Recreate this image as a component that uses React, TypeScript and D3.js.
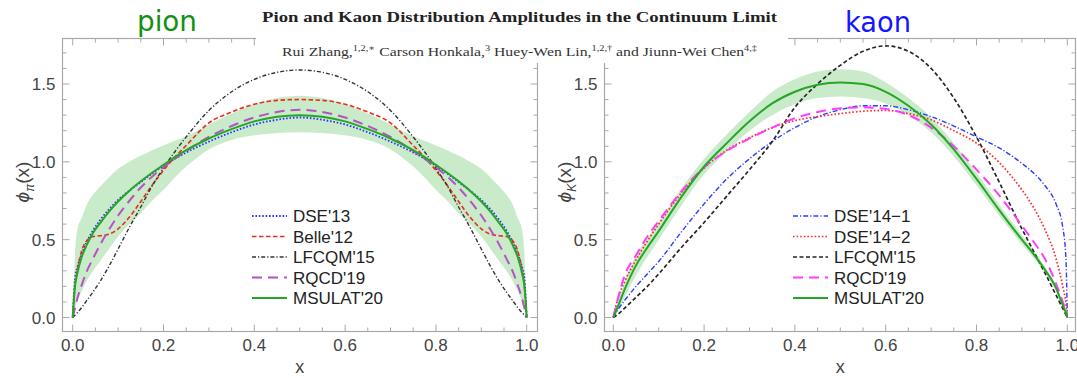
import React from "react";
import * as d3 from "d3";

// ---------- data ----------
const pionX = [0, 0.005, 0.01, 0.02, 0.03, 0.045, 0.06, 0.08, 0.1, 0.125, 0.15, 0.175, 0.2, 0.225, 0.25, 0.3, 0.35, 0.4, 0.45, 0.5, 0.55, 0.6, 0.65, 0.7, 0.75, 0.775, 0.8, 0.825, 0.85, 0.875, 0.9, 0.92, 0.94, 0.955, 0.97, 0.98, 0.99, 0.995, 1];
const pionDSE13 = [0, .25, .32, .41, .48, .56, .625, .695, .755, .815, .87, .925, .975, 1.02, 1.06, 1.13, 1.19, 1.24, 1.27, 1.285, 1.27, 1.24, 1.19, 1.13, 1.06, 1.02, .975, .925, .87, .815, .755, .695, .625, .56, .48, .41, .32, .25, 0];
const pionBelle12 = [0, .2, .3, .43, .49, .52, .525, .535, .57, .645, .745, .85, .945, 1.03, 1.105, 1.25, 1.32, 1.37, 1.395, 1.40, 1.395, 1.37, 1.32, 1.25, 1.105, 1.03, .945, .85, .745, .645, .57, .535, .525, .52, .49, .43, .3, .2, 0];
const pionLFCQM15 = [0, .015, .03, .065, .105, .165, .23, .33, .44, .58, .71, .845, .96, 1.065, 1.16, 1.33, 1.45, 1.53, 1.575, 1.59, 1.575, 1.53, 1.45, 1.33, 1.16, 1.065, .96, .845, .71, .58, .44, .33, .23, .165, .105, .065, .03, .015, 0];
const pionRQCD19 = [0, .06, .12, .21, .29, .38, .465, .565, .655, .75, .835, .905, .965, 1.02, 1.07, 1.16, 1.23, 1.285, 1.32, 1.335, 1.32, 1.285, 1.23, 1.16, 1.07, 1.02, .965, .905, .835, .75, .655, .565, .465, .38, .29, .21, .12, .06, 0];
const pionMSULAT20 = [0, .2, .28, .39, .46, .545, .605, .68, .745, .815, .875, .93, .98, 1.03, 1.075, 1.15, 1.21, 1.26, 1.29, 1.30, 1.29, 1.26, 1.21, 1.15, 1.075, 1.03, .98, .93, .875, .815, .745, .68, .605, .545, .46, .39, .28, .2, 0];
const pionBandLo = [0, .06, .1, .17, .23, .3, .36, .44, .52, .6, .67, .75, .82, .9, .97, 1.08, 1.14, 1.17, 1.185, 1.19, 1.185, 1.17, 1.14, 1.08, .97, .9, .82, .75, .67, .6, .52, .44, .36, .3, .23, .17, .1, .06, 0];
const pionBandHi = [0, .4, .56, .64, .72, .79, .84, .9, .955, 1.0, 1.04, 1.075, 1.105, 1.135, 1.165, 1.24, 1.31, 1.37, 1.41, 1.425, 1.41, 1.37, 1.31, 1.24, 1.165, 1.135, 1.105, 1.075, 1.04, 1.0, .955, .9, .84, .79, .72, .64, .56, .4, 0];

const kaonX = [0, 0.01, 0.025, 0.05, 0.075, 0.1, 0.15, 0.2, 0.25, 0.3, 0.35, 0.4, 0.45, 0.5, 0.55, 0.6, 0.65, 0.7, 0.75, 0.8, 0.85, 0.9, 0.925, 0.95, 0.975, 0.99, 0.997, 1];
const kaonDSE141 = [0, .05, .11, .2, .28, .36, .55, .73, .89, 1.02, 1.13, 1.22, 1.29, 1.335, 1.36, 1.36, 1.335, 1.29, 1.23, 1.16, 1.09, .99, .93, .85, .73, .58, .38, 0];
const kaonDSE142 = [0, .12, .23, .37, .49, .60, .80, .96, 1.075, 1.155, 1.22, 1.265, 1.29, 1.31, 1.325, 1.33, 1.31, 1.27, 1.20, 1.12, .995, .82, .71, .57, .38, .2, .09, 0];
const kaonLFCQM15 = [0, .02, .06, .13, .2, .28, .45, .61, .78, .95, 1.13, 1.35, 1.50, 1.62, 1.71, 1.745, 1.71, 1.60, 1.41, 1.16, .87, .57, .43, .29, .145, .058, .017, 0];
const kaonRQCD19 = [0, .12, .27, .40, .52, .62, .81, .965, 1.07, 1.15, 1.22, 1.28, 1.32, 1.345, 1.35, 1.34, 1.30, 1.22, 1.10, .95, .785, .59, .49, .38, .22, .10, .04, 0];
const kaonMSULAT20 = [0, .07, .18, .335, .45, .555, .775, .97, 1.12, 1.26, 1.375, 1.45, 1.495, 1.51, 1.50, 1.45, 1.36, 1.24, 1.08, .89, .69, .50, .41, .31, .19, .08, .03, 0];
const kaonBandLo = [0, .04, .13, .27, .39, .50, .72, .92, 1.065, 1.20, 1.30, 1.37, 1.41, 1.42, 1.41, 1.375, 1.30, 1.19, 1.035, .85, .655, .47, .385, .29, .17, .07, .025, 0];
const kaonBandHi = [0, .10, .23, .40, .51, .61, .83, 1.02, 1.175, 1.32, 1.45, 1.53, 1.58, 1.595, 1.58, 1.51, 1.41, 1.285, 1.12, .93, .725, .53, .435, .33, .21, .09, .035, 0];

const xTickValues = [0, 0.2, 0.4, 0.6, 0.8, 1.0];
const xTickLabels = ["0.0", "0.2", "0.4", "0.6", "0.8", "1.0"];
const yTickValues = [0, 0.5, 1.0, 1.5];
const yTickLabels = ["0.0", "0.5", "1.0", "1.5"];

const pionNames = ["DSE'13", "Belle'12", "LFCQM'15", "RQCD'19", "MSULAT'20"];
const kaonNames = ["DSE'14\u22121", "DSE'14\u22122", "LFCQM'15", "RQCD'19", "MSULAT'20"];

type Style = { color: string; dash: string; width: number };

const pionStyles: Style[] = [
  { color: "#2a35ff", dash: "1.6 1.8", width: 1.8 },
  { color: "#ee2a1e", dash: "4.5 2.5", width: 1.6 },
  { color: "#333333", dash: "4 2 1.2 2", width: 1.4 },
  { color: "#b552c4", dash: "10 6", width: 2 },
  { color: "#26a626", dash: "", width: 2 },
];
const kaonStyles: Style[] = [
  { color: "#2a3cff", dash: "5 2 1.2 2", width: 1.4 },
  { color: "#ff2a2a", dash: "1.6 2", width: 1.7 },
  { color: "#262626", dash: "4 2.5", width: 1.7 },
  { color: "#ff3cff", dash: "10 6", width: 2 },
  { color: "#26a626", dash: "", width: 2 },
];

const FONT = "'Liberation Sans', Arial, sans-serif";
const FRAME = "#a8a8a8";

type PanelProps = {
  xs: number[];
  series: number[][];
  styles: Style[];
  names: string[];
  lo: number[];
  hi: number[];
  frame: { x0: number; x1: number; y0: number; y1: number };
  xRange: [number, number];
  sub: string;
  ylabelX: number;
  legendLineX: number;
};

function Panel(p: PanelProps) {
  const x = d3.scaleLinear().domain([0, 1]).range(p.xRange);
  const y = d3.scaleLinear().domain([0, 1.5]).range([317.5, 84]);
  const idx = p.xs.map((_, i) => i);
  const line = (vals: number[]) =>
    d3.line<number>().x((i) => x(p.xs[i])).y((i) => y(vals[i])).curve(d3.curveMonotoneX)(idx) || "";
  const area =
    d3.area<number>().x((i) => x(p.xs[i])).y0((i) => y(p.lo[i])).y1((i) => y(p.hi[i])).curve(d3.curveMonotoneX)(idx) || "";
  const { x0, x1, y0, y1 } = p.frame;
  const xMinor = d3.range(0, 1.0001, 0.05);
  const yMinor = d3.range(0, 1.75, 0.1);
  const isMajX = (v: number) => Math.abs(v / 0.2 - Math.round(v / 0.2)) < 1e-6;
  const isMajY = (v: number) => Math.abs(v / 0.5 - Math.round(v / 0.5)) < 1e-6;
  const legendYs = [216, 236.5, 257, 277.5, 298];
  return (
    <g>
      <path d={area} fill="#7fcf7f" fillOpacity={0.42} stroke="none" />
      {p.series.map((s, k) => (
        <path key={k} d={line(s)} fill="none" stroke={p.styles[k].color} strokeWidth={p.styles[k].width} strokeDasharray={p.styles[k].dash || undefined} />
      ))}
      <rect x={x0} y={y0} width={x1 - x0} height={y1 - y0} fill="none" stroke={FRAME} strokeWidth={1.2} />
      {xMinor.map((v, i) => {
        const L = isMajX(v) ? 7 : 4;
        const X = x(v);
        return (
          <g key={"xt" + i} stroke={FRAME} strokeWidth={1}>
            <line x1={X} x2={X} y1={y1} y2={y1 - L} />
            <line x1={X} x2={X} y1={y0} y2={y0 + L} />
          </g>
        );
      })}
      {yMinor.map((v, i) => {
        const L = isMajY(v) ? 7 : 4;
        const Y = y(v);
        return (
          <g key={"yt" + i} stroke={FRAME} strokeWidth={1}>
            <line x1={x0} x2={x0 + L} y1={Y} y2={Y} />
            <line x1={x1} x2={x1 - L} y1={Y} y2={Y} />
          </g>
        );
      })}
      {xTickValues.map((v, i) => (
        <text key={"xl" + i} x={x(v)} y={351} textAnchor="middle" fontFamily={FONT} fontSize={17} fill="#444">
          {xTickLabels[i]}
        </text>
      ))}
      {yTickValues.map((v, i) => (
        <text key={"yl" + i} x={x0 - 7} y={y(v) + 6} textAnchor="end" fontFamily={FONT} fontSize={17} fill="#444">
          {yTickLabels[i]}
        </text>
      ))}
      <text x={(p.xRange[0] + p.xRange[1]) / 2} y={373} textAnchor="middle" fontFamily={FONT} fontSize={18} fill="#444">
        x
      </text>
      <text transform={`translate(${p.ylabelX},182) rotate(-90)`} textAnchor="middle" fontFamily={FONT} fontSize={19} fill="#444">
        <tspan fontStyle="italic">ϕ</tspan>
        <tspan fontSize={12} dy={5} fontStyle="italic">{p.sub}</tspan>
        <tspan dy={-5}>(x)</tspan>
      </text>
      {p.names.map((n, k) => (
        <g key={"lg" + k}>
          <line x1={p.legendLineX} x2={p.legendLineX + 35} y1={legendYs[k]} y2={legendYs[k]} stroke={p.styles[k].color} strokeWidth={p.styles[k].width} strokeDasharray={p.styles[k].dash || undefined} />
          <text x={p.legendLineX + 41} y={legendYs[k] + 6} fontFamily={FONT} fontSize={17} fill="#222">
            {n}
          </text>
        </g>
      ))}
    </g>
  );
}

export default function App() {
  return (
    <svg width={1077} height={378} style={{ position: "absolute", left: 0, top: 0, background: "#fff" }}>
      <rect x={0} y={0} width={1077} height={378} fill="#fff" />
      <Panel
        xs={pionX}
        series={[pionDSE13, pionBelle12, pionLFCQM15, pionRQCD19, pionMSULAT20]}
        styles={pionStyles}
        names={pionNames}
        lo={pionBandLo}
        hi={pionBandHi}
        frame={{ x0: 62.5, x1: 537.5, y0: 38.5, y1: 331.5 }}
        xRange={[72.7, 526.7]}
        sub="π"
        ylabelX={29}
        legendLineX={252}
      />
      <Panel
        xs={kaonX}
        series={[kaonDSE141, kaonDSE142, kaonLFCQM15, kaonRQCD19, kaonMSULAT20]}
        styles={kaonStyles}
        names={kaonNames}
        lo={kaonBandLo}
        hi={kaonBandHi}
        frame={{ x0: 604.5, x1: 1075.5, y0: 38.5, y1: 331.5 }}
        xRange={[613.3, 1067.3]}
        sub="K"
        ylabelX={571}
        legendLineX={793}
      />
      <rect x={256} y={0} width={532} height={63} fill="#fff" />
      <text x={262} y={22} fontFamily="'Liberation Serif', 'DejaVu Serif', serif" fontWeight="bold" fontSize={15} fill="#222" textLength={515} lengthAdjust="spacingAndGlyphs">
        Pion and Kaon Distribution Amplitudes in the Continuum Limit
      </text>
      <text x={282} y={56} fontFamily="'Liberation Serif', 'DejaVu Serif', serif" fontSize={13} fill="#333" textLength={475} lengthAdjust="spacingAndGlyphs">
        Rui Zhang,<tspan fontSize={8.5} dy={-5}>1,2,∗</tspan>
        <tspan dy={5}> Carson Honkala,</tspan>
        <tspan fontSize={8.5} dy={-5}>3</tspan>
        <tspan dy={5}> Huey-Wen Lin,</tspan>
        <tspan fontSize={8.5} dy={-5}>1,2,†</tspan>
        <tspan dy={5}> and Jiunn-Wei Chen</tspan>
        <tspan fontSize={8.5} dy={-5}>4,‡</tspan>
      </text>
      <text x={137} y={31} fontFamily="'DejaVu Sans', sans-serif" fontSize={28} fill="#119111" textLength={60} lengthAdjust="spacingAndGlyphs">
        pion
      </text>
      <text x={845} y={32} fontFamily="'DejaVu Sans', sans-serif" fontSize={28} fill="#1515ff" textLength={66} lengthAdjust="spacingAndGlyphs">
        kaon
      </text>
    </svg>
  );
}
